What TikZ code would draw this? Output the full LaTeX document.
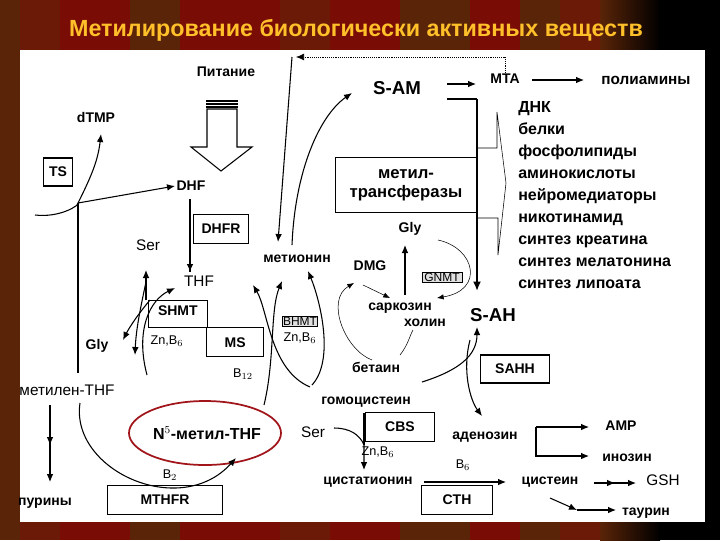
\documentclass[tikz,border=0pt]{standalone}
\usepackage{fontspec}
\setmainfont{Liberation Sans}
\usetikzlibrary{arrows.meta}
\definecolor{bgA}{HTML}{5A2408}
\definecolor{bgB}{HTML}{7A0C06}
\definecolor{bgC}{HTML}{6A1A06}
\definecolor{ttl}{HTML}{FFC02A}
\definecolor{ell}{HTML}{A0141A}
\begin{document}
\begin{tikzpicture}[x=0.75pt,y=-0.75pt,
  lab/.style={font=\fontsize{10.5}{11}\selectfont\bfseries,inner sep=1pt},
  nlab/.style={font=\fontsize{11.5}{12}\selectfont,inner sep=1pt},
  slab/.style={font=\fontsize{9.5}{10}\selectfont,inner sep=1pt},
  big/.style={font=\fontsize{14}{15}\selectfont\bfseries,inner sep=1pt},
  ebox/.style={draw,thick,font=\fontsize{10.5}{11}\selectfont\bfseries,inner sep=0pt},
  ar/.style={-{Latex[length=6pt,width=5pt]},thick},
  tar/.style={-{Latex[length=5pt,width=4pt]},thin},
  lst/.style={font=\fontsize{12}{16.5}\selectfont\bfseries,align=left,anchor=north west,inner sep=0pt}]
\useasboundingbox (0,0) rectangle (720,540);
% background stripes
\fill[bgA] (0,0) rectangle (720,540);
\fill[bgC] (20,0) rectangle (60,540);
\fill[bgB] (60,0) rectangle (130,540);
\fill[bgA] (130,0) rectangle (180,540);
\fill[bgB] (180,0) rectangle (280,540);
\fill[bgC] (280,0) rectangle (330,540);
\fill[bgB] (330,0) rectangle (400,540);
\fill[bgA] (400,0) rectangle (470,540);
\fill[bgB] (470,0) rectangle (520,540);
\fill[bgA] (520,0) rectangle (560,540);
\fill[bgC] (560,0) rectangle (600,540);
\shade[left color=bgA,right color=black] (600,0) rectangle (660,540);
\fill[black] (659,0) rectangle (720,540);
\node[font=\fontsize{17.5}{19}\selectfont\bfseries,text=ttl] (title) at (356,30) {Метилирование биологически активных веществ};
\fill[white] (20,50) rectangle (705,522);

% nodes
\node[lab] (pit) at (226,72) {Питание};
\node[lab] (dtmp) at (96,117) {dTMP};
\node[ebox,minimum width=22pt,minimum height=21pt] (ts) at (58,172) {TS};
\node[lab] (dhf) at (191,186) {DHF};
\node[ebox,minimum width=41pt,minimum height=22pt] (dhfr) at (221,229) {DHFR};
\node[nlab] (ser1) at (148,245) {Ser};
\node[nlab] (thf) at (199,281) {THF};
\node[ebox,minimum width=44pt,minimum height=20pt,anchor=north west] (shmt) at (148,300) {\raisebox{5pt}{SHMT}};
\node[ebox,minimum width=43pt,minimum height=22pt,anchor=north west] (ms) at (206,327) {MS};
\node[slab] (zn1) at (167,341) {Zn,B$_6$};
\node[slab] (b12) at (243,374) {B$_{12}$};
\node[lab] (gly1) at (97,346) {Gly};
\node[nlab] (mthf) at (67,390) {метилен-THF};
\node[lab] (pur) at (45,503) {пурины};
\node[ebox,minimum width=86pt,minimum height=22pt] (mthfr) at (165,500) {MTHFR};
\node[slab] (b2) at (170,475) {B$_2$};
\node[font=\fontsize{12}{13}\selectfont\bfseries,inner sep=1pt] (n5) at (207,433) {N$^5$-метил-THF};
\draw[ell,line width=1.3pt] (205,433) ellipse (76 and 32);
\node[lab] (met) at (297,259) {метионин};
\node[draw,font=\fontsize{9}{9}\selectfont,inner sep=0.5pt,fill=black!12] (bhmt) at (300,321) {BHMT};
\node[slab] (zn2) at (300,338) {Zn,B$_6$};
\node[big] (sam) at (397,88) {S-AM};
\node[lab] (mta) at (505,79) {MTA};
\node[font=\fontsize{11.5}{12}\selectfont\bfseries,inner sep=1pt] (poly) at (646,80) {полиамины};
\node[draw,thick,font=\fontsize{12.5}{14}\selectfont\bfseries,align=center,minimum width=106pt,minimum height=41pt,inner sep=0pt] (mtr) at (406,185) {метил-\\трансферазы};
\node[lst] (list) at (518,101) {ДНК\\белки\\фосфолипиды\\аминокислоты\\нейромедиаторы\\никотинамид\\синтез креатина\\синтез мелатонина\\синтез липоата};
\node[lab] (gly2) at (410,229) {Gly};
\node[lab] (dmg) at (370,266) {DMG};
\node[draw,font=\fontsize{9}{9}\selectfont,inner sep=0.5pt,fill=black!12,minimum width=30pt] (gnmt) at (442,277) {GNMT};
\node[lab] (sark) at (400,308) {саркозин};
\node[lab] (hol) at (425,323) {холин};
\node[big] (sah) at (493,315) {S-AH};
\node[lab] (bet) at (376,367) {бетаин};
\node[ebox,minimum width=52pt,minimum height=21pt] (sahh) at (515,369) {SAHH};
\node[lab] (homo) at (366,402) {гомоцистеин};
\node[nlab] (ser2) at (313,432) {Ser};
\node[ebox,minimum width=52pt,minimum height=22pt] (cbs) at (400,427) {CBS};
\node[slab] (zn3) at (378,452) {Zn,B$_6$};
\node[lab] (cyst) at (368,482) {цистатионин};
\node[ebox,minimum width=53pt,minimum height=22pt] (cth) at (457,500) {CTH};
\node[slab] (b6) at (463,465) {B$_6$};
\node[lab] (aden) at (485,437) {аденозин};
\node[lab] (amp) at (621,426) {AMP};
\node[lab] (ino) at (627,458) {инозин};
\node[lab] (cys) at (550,482) {цистеин};
\node[nlab] (gsh) at (663,480) {GSH};
\node[lab] (taur) at (646,513) {таурин};
\coordinate (br) at (78,203);
\coordinate (topL) at (292,57);
\coordinate (topR) at (505,57);
\coordinate (bend) at (477,99);
\coordinate (brk) at (536,427);
\coordinate (tj) at (577,510);

% hollow down arrow
\draw[thick] (206,101) -- (238,101) (206,104) -- (238,104) (206,107) -- (238,107);
\draw[thick] (207,109) -- (207,147) -- (191,147) -- (221,171) -- (252,147) -- (237,147) -- (237,109) -- cycle;
% hollow right arrow
\draw (477,148) -- (497,148) -- (497,112) -- (506,183) -- (498,255) -- (498,218) -- (477,218);

% left connectors
\draw[ar] (35,215) .. controls (60,218) and (80,205) .. (br) .. controls (92,175) and (98,160) .. (101,134);
\draw[ar] (br) -- (dhf.west);
\draw[thick] (br) -- (78,373);
\draw[line width=1.2pt] (190,199) -- (190,272);
\draw[ar,line width=1.2pt] (190,250) -- (190,272);
\draw[ar] (147,375) .. controls (135,330) and (150,300) .. (175,288);
\draw[ar] (150,300) .. controls (135,318) and (128,330) .. (123,340);
\draw[ar] (146,282) .. controls (140,310) and (136,330) .. (135,355);
\draw[ar] (146,300) -- (146,270);
\draw[ar] (50,405) -- (50,445);
\draw[ar] (50,440) -- (50,482);
\draw[ar] (80,403) .. controls (70,470) and (180,520) .. (236,458);
% central arcs
\draw[ar] (264,405) .. controls (275,360) and (270,310) .. (282,281);
\draw[ar] (310,387) .. controls (270,370) and (268,310) .. (253,285);
\draw[ar] (312,385) .. controls (335,360) and (320,300) .. (308,271);
\draw[tar] (372,360) .. controls (345,350) and (325,300) .. (354,283);
\draw[thin] (400,355) .. controls (408,345) and (410,335) .. (413,330);
% metionin / SAM
\draw[ar] (topL) -- (278,242);
\draw[-{Latex[length=6pt,width=5pt]},densely dotted] (topR) -- (296,57);
\draw[densely dotted] (mta.north) -- (topR);
\draw[ar] (292,245) .. controls (295,170) and (320,115) .. (352,93);
\draw[ar] (447,84) -- (476,84);
\draw[ar] (532,80) -- (584,80);
\draw[line width=1.8pt] (447,99) -- (bend);
\draw[line width=1.8pt,-{Latex[length=7pt,width=6pt]}] (bend) -- (477,291);
% glycine region
\draw[ar] (405,295) -- (405,245);
\draw[tar] (363,285) -- (390,298);
\draw[tar] (438,240) .. controls (475,248) and (485,290) .. (437,298);
% S-AH
\draw[ar] (422,382) .. controls (460,370) and (477,355) .. (477,327);
\draw[ar] (470,340) .. controls (462,370) and (470,400) .. (482,416);
% CBS
\draw[ar] (334,428) .. controls (350,428) and (360,435) .. (364,445) -- (364,470);
\draw[thick] (364,413) -- (364,445);
\draw[ar] (424,482) -- (506,482);
% adenosine
\draw[ar] (brk) -- (589,427);
\draw[ar] (brk) -- (536,456) -- (589,456);
\draw[ar] (594,483) -- (615,483);
\draw[ar] (605,483) -- (636,483);
\draw[ar] (550,498) -- (tj);
\draw[ar] (tj) -- (616,510);
\end{tikzpicture}
\end{document}
